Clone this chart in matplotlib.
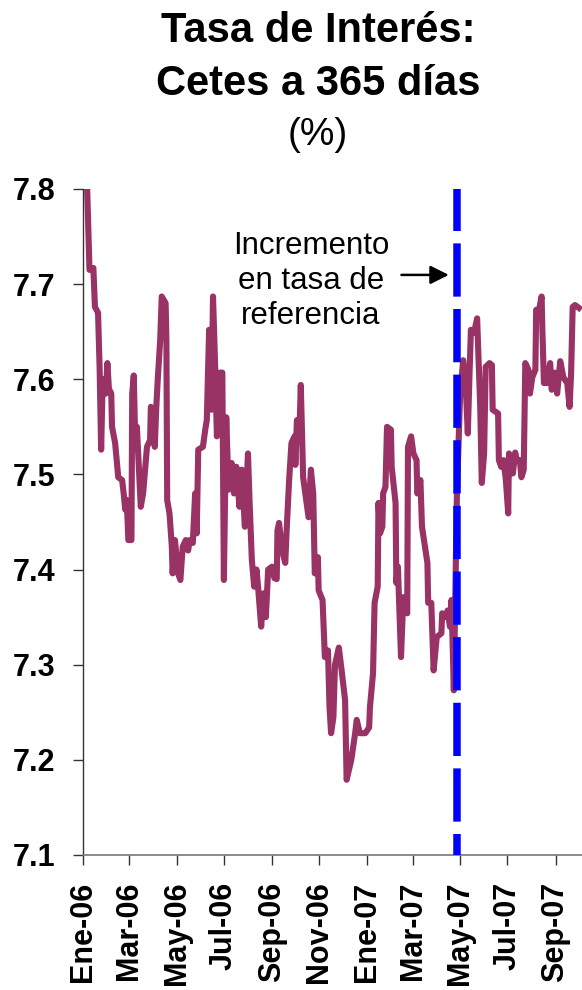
import numpy as np
import pandas as pd
import matplotlib
matplotlib.use("Agg")
import matplotlib.pyplot as plt

plt.rcParams['font.family'] = ['Liberation Sans', 'DejaVu Sans']

# Cetes 365 dias, tasa (%) - leido de la grafica
# dias contados desde 2006-01-01
dias = [2, 5, 8, 13, 15, 19, 21, 23, 25, 29, 31, 33, 36, 37, 41, 43, 45, 50, 52, 54,
        56, 58, 62, 63, 65, 67, 69, 74, 77, 82, 86, 87, 90, 92, 94, 96, 99, 101, 106, 107,
        108, 111, 114, 115, 118, 122, 125, 128, 132, 135, 137, 141, 144, 146, 148, 154, 157, 159, 162, 165,
        167, 170, 172, 176, 179, 181, 184, 187, 191, 194, 197, 201, 204, 208, 212, 214, 217, 220, 223, 225,
        229, 232, 235, 238, 243, 246, 249, 250, 252, 256, 260, 262, 265, 268, 272, 273, 275, 278, 280, 283,
        287, 290, 293, 296, 298, 302, 303, 308, 311, 315, 317, 319, 322, 324, 329, 333, 337, 339, 345, 350,
        352, 356, 363, 368, 369, 373, 375, 379, 380, 382, 385, 386, 389, 391, 396, 397, 402, 403, 405, 407,
        409, 412, 417, 418, 422, 425, 429, 430, 434, 436, 443, 444, 448, 451, 455, 461, 462, 467, 469, 472,
        474, 477, 481, 485, 489, 492, 495, 497, 499, 503, 507, 511, 513, 516, 518, 523, 526, 527, 534, 535,
        538, 541, 544, 547, 548, 553, 556, 558, 562, 564, 567, 569, 573, 575, 578, 582, 583, 586, 590, 591,
        593, 597, 601, 603, 607, 610, 614, 618, 623, 626, 628, 630, 633, 638]
tasa = [7.85, 7.80, 7.715, 7.717, 7.676, 7.67, 7.613, 7.526, 7.60, 7.585, 7.617, 7.59, 7.585, 7.55, 7.533, 7.515, 7.497, 7.494, 7.48, 7.463,
        7.473, 7.431, 7.431, 7.585, 7.604, 7.529, 7.55, 7.466, 7.48, 7.529, 7.536, 7.571, 7.568, 7.529, 7.571, 7.602, 7.641, 7.687, 7.68, 7.641,
        7.473, 7.459, 7.424, 7.396, 7.431, 7.396, 7.389, 7.424, 7.431, 7.42, 7.431, 7.428, 7.48, 7.438, 7.526, 7.529, 7.547, 7.557, 7.652, 7.568,
        7.687, 7.607, 7.54, 7.607, 7.607, 7.389, 7.56, 7.484, 7.512, 7.48, 7.508, 7.466, 7.505, 7.445, 7.522, 7.473, 7.41, 7.382, 7.40, 7.382,
        7.34, 7.375, 7.35, 7.40, 7.403, 7.391, 7.39, 7.441, 7.449, 7.42, 7.407, 7.445, 7.494, 7.533, 7.54, 7.51, 7.557, 7.536, 7.594, 7.497,
        7.473, 7.455, 7.505, 7.48, 7.396, 7.413, 7.378, 7.368, 7.308, 7.315, 7.255, 7.228, 7.245, 7.30, 7.318, 7.291, 7.263, 7.179, 7.20, 7.228,
        7.242, 7.228, 7.228, 7.234, 7.255, 7.291, 7.365, 7.382, 7.47, 7.438, 7.445, 7.48, 7.487, 7.55, 7.547, 7.508, 7.47, 7.386, 7.403, 7.354,
        7.308, 7.371, 7.354, 7.529, 7.54, 7.522, 7.515, 7.48, 7.494, 7.445, 7.407, 7.365, 7.365, 7.294, 7.329, 7.333, 7.354, 7.35, 7.357, 7.34,
        7.368, 7.273, 7.48, 7.581, 7.62, 7.599, 7.543, 7.60, 7.652, 7.649, 7.664, 7.571, 7.491, 7.522, 7.613, 7.617, 7.615, 7.568, 7.564, 7.515,
        7.508, 7.515, 7.494, 7.459, 7.522, 7.501, 7.523, 7.515, 7.515, 7.497, 7.505, 7.617, 7.61, 7.585, 7.602, 7.61, 7.673, 7.67, 7.687, 7.652,
        7.596, 7.596, 7.617, 7.589, 7.607, 7.585, 7.619, 7.602, 7.596, 7.571, 7.607, 7.676, 7.678, 7.675]

fecha_alza = "2007-04-27"   # incremento en tasa de referencia

ticks_fechas = ["2006-01-01", "2006-03-01", "2006-05-01", "2006-07-01", "2006-09-01", "2006-11-01",
                "2007-01-01", "2007-03-01", "2007-05-01", "2007-07-01", "2007-09-01"]
ticks_etiquetas = ["Ene-06", "Mar-06", "May-06", "Jul-06", "Sep-06", "Nov-06",
                   "Ene-07", "Mar-07", "May-07", "Jul-07", "Sep-07"]
y_ticks = [7.1, 7.2, 7.3, 7.4, 7.5, 7.6, 7.7, 7.8]

fechas = pd.Timestamp("2006-01-01") + pd.to_timedelta(dias, unit="D")

fig = plt.figure(figsize=(5.82, 9.90), dpi=100)
ax = fig.add_axes([0.1431, 0.1364, 0.8569, 0.6727])

ax.plot(fechas, tasa, color='#993366', lw=4.4, solid_joinstyle='round', zorder=2)
alza = pd.Timestamp(fecha_alza)
ax.plot([alza, alza], [7.8, 7.1], color='#0000FF', lw=5.4,
        linestyle=(1.5, (7.1, 1.65)), zorder=3, clip_on=False)

ax.set_ylim(7.1, 7.8)
ax.set_xlim(pd.Timestamp("2006-01-01"), pd.Timestamp("2007-10-05"))

ax.set_yticks(y_ticks)
ax.set_yticklabels([f"{v:.1f}" for v in y_ticks], fontsize=22, fontweight='bold')
ax.set_xticks(pd.to_datetime(ticks_fechas))
ax.set_xticklabels(ticks_etiquetas, rotation=90, fontsize=22, fontweight='bold')
ax.tick_params(axis='y', length=7, width=1, pad=13, color='#333333')
ax.tick_params(axis='x', length=7, width=1, pad=12, color='#333333')

for s in ['top', 'right']:
    ax.spines[s].set_visible(False)
ax.spines['left'].set_color('#333333')
ax.spines['bottom'].set_color('#777777')
ax.spines['left'].set_linewidth(1)
ax.spines['bottom'].set_linewidth(1.2)

# titulo
fig.text(0.546, 0.9576, "Tasa de Interés:", ha='center', va='baseline', fontsize=30, fontweight='bold')
fig.text(0.546, 0.904, "Cetes a 365 días", ha='center', va='baseline', fontsize=30, fontweight='bold')
fig.text(0.546, 0.8535, "(%)", ha='center', va='baseline', fontsize=28)

# nota
ax.text(0.4566, 0.862, "Incremento\nen tasa de\nreferencia", transform=ax.transAxes,
        ha='center', va='center', fontsize=22.5, linespacing=1.22)
ax.annotate("", xy=(0.733, 0.871), xytext=(0.638, 0.871), xycoords='axes fraction',
            arrowprops=dict(arrowstyle='-|>', color='black', lw=1.8, mutation_scale=28,
                            shrinkA=0, shrinkB=0))

fig.savefig("out.png", dpi=100)
